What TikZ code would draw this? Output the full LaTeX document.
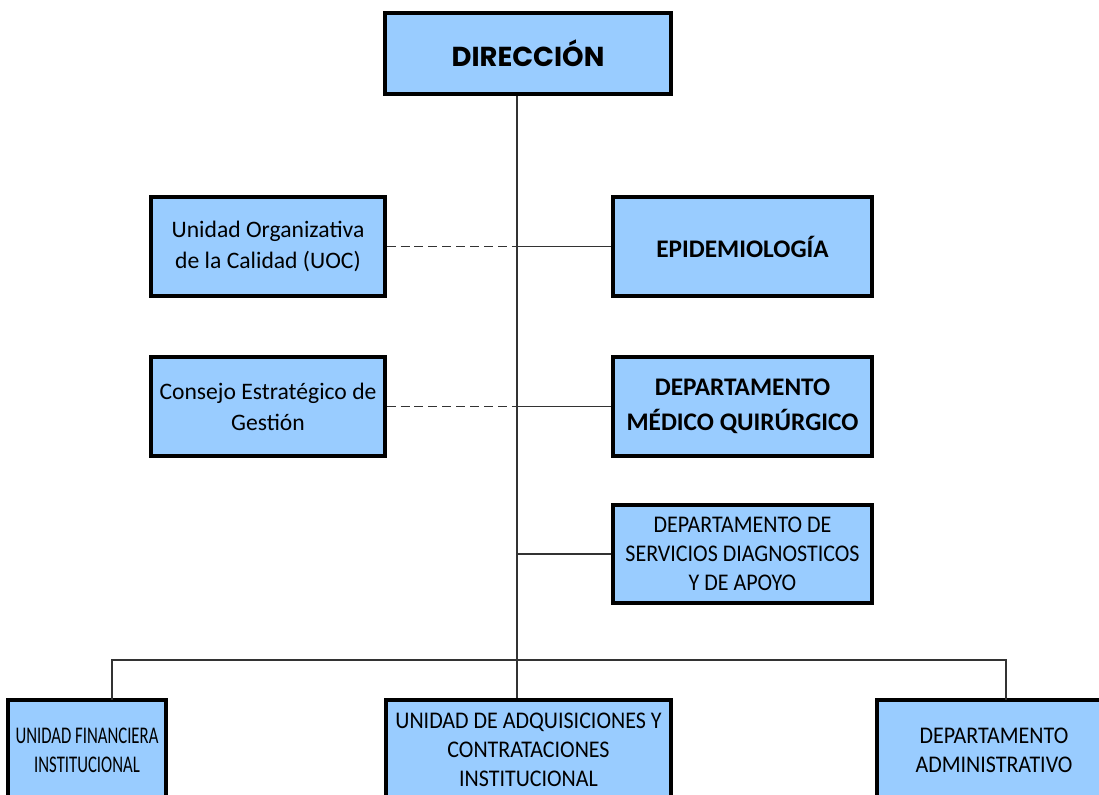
\documentclass[tikz,border=0pt]{standalone}
\usepackage{fontspec}
\setmainfont{Carlito}
\newfontfamily\capsfont[FakeStretch=0.92]{Carlito}
\newfontfamily\narrowcapsfont[FakeStretch=0.7]{Carlito}
\newfontfamily\titlefont{Poppins}
\usepackage{tikz}

\definecolor{boxblue}{HTML}{99CCFF}
\definecolor{linegray}{HTML}{333333}
\tikzset{
  orgbox/.style={draw=black,line width=2.3pt,fill=boxblue,rectangle,align=center,inner sep=1pt},
  titletext/.style={font=\titlefont\bfseries\fontsize{19.5}{22}\selectfont},
  boldtext/.style={font=\bfseries\fontsize{18}{25}\selectfont},
  mixedtext/.style={font=\fontsize{16.8}{22}\selectfont},
  capstext/.style={font=\capsfont\fontsize{17}{20.5}\selectfont},
  narrowtext/.style={font=\narrowcapsfont\fontsize{17}{20.5}\selectfont},
  link/.style={draw=linegray,line width=0.9pt},
  stafflink/.style={link,dash pattern=on 6.4pt off 3.5pt}
}

\begin{document}
\begin{tikzpicture}[x=0.025cm,y=-0.025cm]
                \useasboundingbox (0,0) rectangle (1099,795);
                \clip (0,0) rectangle (1099,795);

                \node[orgbox,titletext,minimum width=7.15cm,minimum height=2.025cm] (direccion) at (528,53.5) {DIRECCIÓN};
                \node[orgbox,mixedtext,minimum width=5.85cm,minimum height=2.475cm] (uoc) at (268,246.5) {Unidad Organizativa\\de la Calidad (UOC)};
                \node[orgbox,boldtext,minimum width=6.475cm,minimum height=2.475cm] (epidem) at (742.5,246.5) {EPIDEMIOLOGÍA};
                \node[orgbox,mixedtext,minimum width=5.85cm,minimum height=2.475cm] (consejo) at (268,406.5) {Consejo Estratégico de\\Gestión};
                \node[orgbox,boldtext,minimum width=6.475cm,minimum height=2.475cm] (medico) at (742.5,406.5) {DEPARTAMENTO\\MÉDICO QUIRÚRGICO};
                \node[orgbox,capstext,minimum width=6.475cm,minimum height=2.45cm] (servicios) at (742.5,554) {DEPARTAMENTO DE\\SERVICIOS DIAGNOSTICOS\\Y DE APOYO};
                \node[orgbox,narrowtext,minimum width=3.95cm,minimum height=2.5cm] (financiera) at (87,750) {UNIDAD FINANCIERA\\INSTITUCIONAL};
                \node[orgbox,capstext,minimum width=7.125cm,minimum height=2.5cm] (adquis) at (528.5,750) {UNIDAD DE ADQUISICIONES Y\\CONTRATACIONES\\INSTITUCIONAL};
                \node[orgbox,capstext,minimum width=5.85cm,minimum height=2.5cm] (admin) at (994,750) {DEPARTAMENTO\\ADMINISTRATIVO};

                \coordinate (trunk) at (517,660);
                \coordinate (fintop) at (112,700);
                \coordinate (admtop) at (1006,700);

                % linea vertical principal
                \draw[link] (direccion.south -| trunk) -- (trunk);
                \draw[link] (trunk) -- (adquis.north -| trunk);

                % unidades de staff
                \draw[stafflink] (uoc.east) -- (uoc.east -| trunk);
                \draw[stafflink] (consejo.east) -- (consejo.east -| trunk);

                % departamentos
                \draw[link] (epidem.west) -- (epidem.west -| trunk);
                \draw[link] (medico.west) -- (medico.west -| trunk);
                \draw[link] (servicios.west) -- (servicios.west -| trunk);

                \draw[link] (fintop) |- (trunk) -| (admtop);
            \end{tikzpicture}
\end{document}
